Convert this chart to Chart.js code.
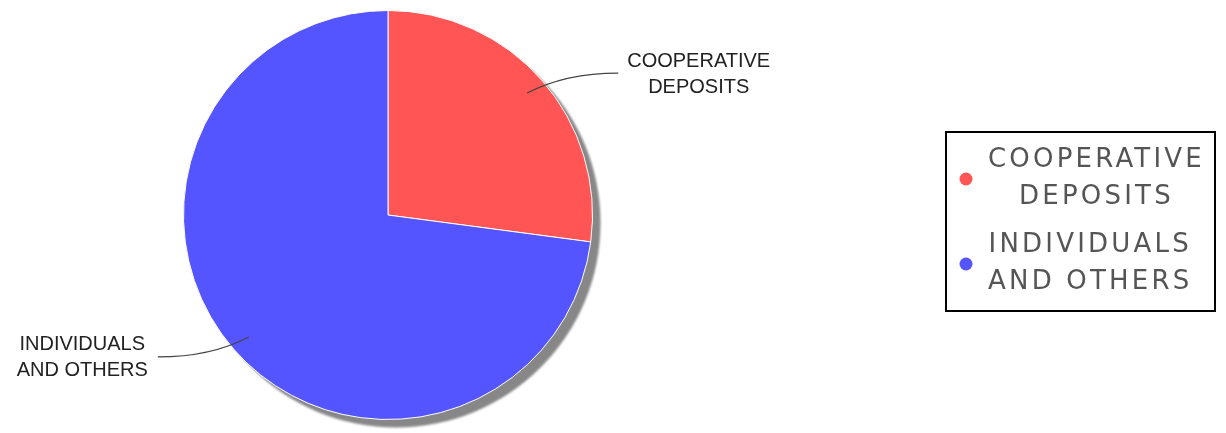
<!DOCTYPE html>
<html>
<head>
<meta charset="utf-8">
<script src="https://cdn.jsdelivr.net/npm/chart.js@4.4.1/dist/chart.umd.min.js"></script>
<style>
  html, body { margin: 0; padding: 0; background: #ffffff; }
  #wrap { width: 1226px; height: 433px; position: relative; }
</style>
</head>
<body>
<div id="wrap"><canvas id="pieChart"></canvas></div>
<script>
const categories = ["COOPERATIVE DEPOSITS", "INDIVIDUALS AND OTHERS"];
const labelLines = [["COOPERATIVE", "DEPOSITS"], ["INDIVIDUALS", "AND OTHERS"]];
const shares = [27.1, 72.9];
const sliceColors = ["#ff5555", "#5555ff"];

// gray drop shadow under the pie
const shadowPlugin = {
  id: "pieShadow",
  beforeDatasetsDraw(chart) {
    const arc = chart.getDatasetMeta(0).data[0];
    if (!arc) return;
    const ctx = chart.ctx;
    ctx.save();
    ctx.filter = "blur(1.2px)";
    ctx.fillStyle = "#878787";
    ctx.beginPath();
    ctx.arc(arc.x + 8, arc.y + 8, arc.outerRadius, 0, Math.PI * 2);
    ctx.fill();
    ctx.restore();
  }
};

// outside labels with curved leader lines
const calloutPlugin = {
  id: "callouts",
  afterDatasetsDraw(chart) {
    const ctx = chart.ctx;
    const arcs = chart.getDatasetMeta(0).data;
    ctx.save();
    ctx.font = "20px 'Liberation Sans', Arial, sans-serif";
    ctx.fillStyle = "#222222";
    ctx.textBaseline = "middle";
    arcs.forEach((arc, i) => {
      const mid = (arc.startAngle + arc.endAngle) / 2;
      const r = arc.outerRadius * 0.905;
      const ax = arc.x + Math.cos(mid) * r;
      const ay = arc.y + Math.sin(mid) * r;
      const sx = Math.cos(mid) >= 0 ? 1 : -1;
      const sy = Math.sin(mid) >= 0 ? 1 : -1;
      const ex = ax + sx * 91;
      const ey = ay + sy * 20;

      ctx.strokeStyle = "#444444";
      ctx.lineWidth = 1.2;
      ctx.beginPath();
      ctx.moveTo(ax, ay);
      ctx.quadraticCurveTo(ax + sx * 38, ey, ex, ey);
      ctx.stroke();

      const lines = labelLines[i];
      const blockW = Math.max(...lines.map(t => ctx.measureText(t).width));
      const left = sx > 0 ? ex + 9 : ex - 10 - blockW;
      ctx.textAlign = "center";
      lines.forEach((t, k) => {
        ctx.fillText(t, left + blockW / 2, ey - 12 + k * 26);
      });
    });
    ctx.restore();
  }
};

// boxed legend on the right
const boxLegendPlugin = {
  id: "boxLegend",
  afterDraw(chart) {
    const ctx = chart.ctx;
    const box = { x: 946, y: 132, w: 269, h: 179 };
    const itemTop = [160, 245];
    ctx.save();
    ctx.strokeStyle = "#000000";
    ctx.lineWidth = 2;
    ctx.strokeRect(box.x, box.y, box.w, box.h);

    ctx.font = "26px 'DejaVu Sans', sans-serif";
    ctx.letterSpacing = "3.2px";
    ctx.textBaseline = "middle";
    ctx.textAlign = "center";
    categories.forEach((c, i) => {
      const lines = labelLines[i];
      const y0 = itemTop[i];
      ctx.fillStyle = sliceColors[i];
      ctx.beginPath();
      ctx.arc(966, y0 + 19, 6.5, 0, Math.PI * 2);
      ctx.fill();

      ctx.fillStyle = "#555555";
      const blockW = Math.max(...lines.map(t => ctx.measureText(t).width));
      lines.forEach((t, k) => {
        ctx.fillText(t, 988 + blockW / 2, y0 + k * 37);
      });
    });
    ctx.restore();
  }
};

new Chart(document.getElementById("pieChart").getContext("2d"), {
  type: "pie",
  data: {
    labels: categories,
    datasets: [{
      data: shares,
      backgroundColor: sliceColors,
      borderColor: "#ffffff",
      borderWidth: 1
    }]
  },
  options: {
    responsive: true,
    maintainAspectRatio: false,
    animation: false,
    layout: {
      padding: { left: 183, right: 633, top: 10, bottom: 13 }
    },
    plugins: {
      legend: { display: false },
      tooltip: { enabled: false }
    }
  },
  plugins: [shadowPlugin, calloutPlugin, boxLegendPlugin]
});
</script>
</body>
</html>
